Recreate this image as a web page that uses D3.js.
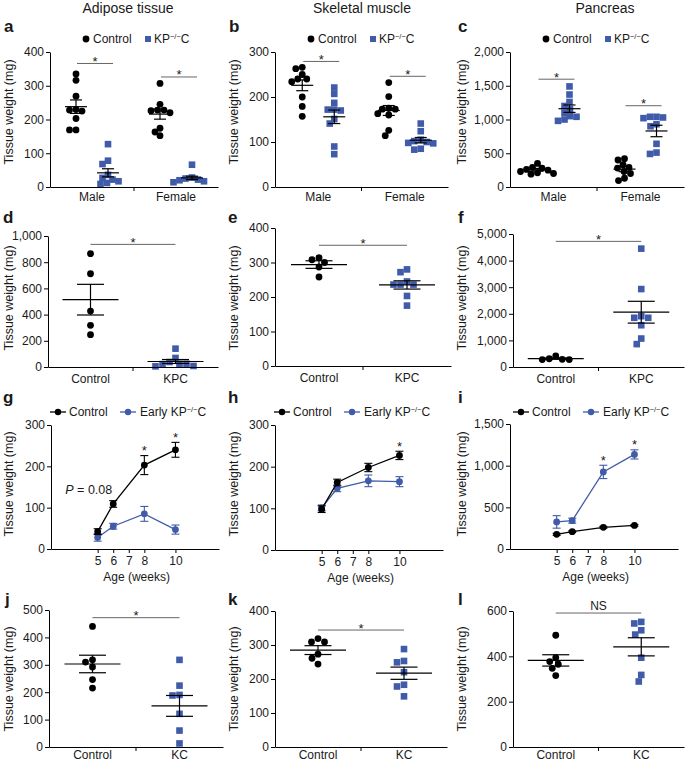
<!DOCTYPE html>
<html><head><meta charset="utf-8">
<script src="https://cdn.jsdelivr.net/npm/d3@7"></script>
<style>
body{margin:0;background:#fff}
svg text{font-family:"Liberation Sans",Arial,Helvetica,sans-serif;fill:#1a1a1a}
</style>
</head><body>
<svg id="c" width="685" height="763"></svg>
<script>
// ---------------- DATA ----------------
const sexGroups = ["Male", "Female"];
const kpcGroups = ["Control", "KPC"];
const kcGroups = ["Control", "KC"];
const weeks = [5, 6, 8, 10];
const weekTicks = [5, 6, 7, 8, 10];

// a  Adipose tissue (sex groups)
const aTicks = [0, 100, 200, 300, 400];
const aCtrl = [[335, 316, 269, 230, 228, 225, 203, 169, 169], [307, 245, 228, 228, 226, 220, 174, 163, 152]];
const aKP = [[127, 78, 68, 36, 27, 22, 17, 12, 9], [66, 28, 25, 22, 20, 17, 14]];
const aCtrlMean = [238, 216], aCtrlSem = [20, 15];
const aKPMean = [42, 27], aKPSem = [12, 5];
const aSig = [366, 326];

// b  Skeletal muscle
const bTicks = [0, 100, 200, 300];
const bCtrl = [[266, 263, 250, 240, 240, 234, 200, 179, 157], [232, 201, 175, 173, 173, 163, 160, 126, 114]];
const bKP = [[221, 207, 187, 172, 172, 170, 151, 141, 90, 73], [141, 124, 105, 102, 100, 98, 97, 85, 83]];
const bCtrlMean = [226, 170], bCtrlSem = [12, 11];
const bKPMean = [156, 104], bKPSem = [15, 6];
const bSig = [279, 246];

// c  Pancreas
const cTicks = [0, 500, 1000, 1500, 2000];
const cCtrl = [[350, 290, 280, 260, 250, 230, 210, 200, 190], [420, 400, 330, 290, 280, 230, 200, 130, 95]];
const cKP = [[1490, 1370, 1260, 1200, 1150, 1100, 1050, 1040, 1000, 980], [1040, 1040, 1030, 1020, 930, 900, 640, 510, 490]];
const cCtrlMean = [255, 265], cCtrlSem = [20, 38];
const cKPMean = [1160, 830], cKPSem = [55, 85];
const cSig = [1597, 1204];

// d, e, f  Control vs KPC
const dTicks = [0, 200, 400, 600, 800, 1000];
const dCtrl = [865, 712, 427, 318, 247];
const dKP = [140, 69, 38, 25, 25, 22, 8, 5];
const dMean = [514, 42], dSem = [117, 15], dSig = 936;

const eTicks = [0, 100, 200, 300, 400];
const eCtrl = [314, 308, 300, 287, 258];
const eKP = [280, 272, 245, 236, 236, 236, 203, 175];
const eMean = [294, 235], eSem = [11, 12], eSig = 350;

const fTicks = [0, 1000, 2000, 3000, 4000, 5000];
const fCtrl = [415, 290, 280, 280, 310];
const fKP = [4450, 2930, 1910, 1850, 1850, 1570, 1070, 860];
const fMean = [315, 2060], fSem = [25, 410], fSig = 4723;

// g, h, i  time course (mean, SEM)
const gTicks = [0, 100, 200, 300];
const gCtrl = [42, 109, 203, 240], gCtrlErr = [7, 8, 23, 18];
const gKP = [28, 55, 85, 47], gKPErr = [9, 7, 18, 11];
const gStars = [8, 10];

const hTicks = [0, 100, 200, 300];
const hCtrl = [98, 162, 198, 227], hCtrlErr = [8, 8, 10, 10];
const hKP = [101, 148, 166, 164], hKPErr = [7, 8, 14, 12];
const hStars = [10];

const iTicks = [0, 500, 1000, 1500];
const iCtrl = [176, 208, 260, 283], iCtrlErr = [12, 10, 12, 10];
const iKP = [325, 340, 925, 1135], iKPErr = [75, 30, 80, 55];
const iStars = [8, 10];

// j, k, l  Control vs KC
const jTicks = [0, 100, 200, 300, 400, 500];
const jCtrl = [440, 318, 310, 292, 246, 215];
const jKC = [318, 224, 190, 188, 121, 60, 13];
const jMean = [303, 150], jSem = [32, 38], jSig = 472;

const kTicks = [0, 100, 200, 300, 400];
const kCtrl = [319, 309, 309, 273, 261, 244];
const kKC = [288, 253, 249, 220, 183, 178, 149];
const kMean = [285, 217], kSem = [13, 18], kSig = 344;

const lTicks = [0, 200, 400, 600];
const lCtrl = [493, 394, 377, 365, 347, 315];
const lKC = [552, 545, 515, 496, 394, 318, 289];
const lMean = [382, 442], lSem = [25, 40], lSig = 591;

const titles = ["Adipose tissue", "Skeletal muscle", "Pancreas"];

// ---------------- DRAWING ----------------
const BLUE = "#3f5ba9";
const svg = d3.select("#c");
const fmt = d3.format(",");

function yAxis(y, ticks, L) {
  const g = svg.append("g").attr("transform", `translate(${L},0)`)
    .call(d3.axisLeft(y).tickValues(ticks).tickSize(4).tickSizeOuter(0).tickPadding(2).tickFormat(fmt));
  g.selectAll("path,line").attr("stroke", "#000").attr("stroke-width", 1);
  g.selectAll("text").attr("font-size", 12).attr("fill", "#1a1a1a");
  return g;
}
function catXAxis(band, B, pad) {
  const g = svg.append("g").attr("transform", `translate(0,${B})`)
    .call(d3.axisBottom(band).tickSize(0).tickSizeOuter(0).tickPadding(pad));
  g.selectAll("path").attr("stroke", "#000");
  g.selectAll("text").attr("font-size", 12).attr("fill", "#1a1a1a");
  const r = band.range();
  g.append("line").attr("x1", (r[0] + r[1]) / 2).attr("x2", (r[0] + r[1]) / 2)
    .attr("y1", 0).attr("y2", 4).attr("stroke", "#000");
}
function yLabel(x, cy) {
  svg.append("text").attr("transform", `translate(${x},${cy}) rotate(-90)`)
    .attr("text-anchor", "middle").attr("font-size", 12.5).text("Tissue weight (mg)");
}
function letter(t, x, y) {
  svg.append("text").attr("x", x).attr("y", y).attr("font-size", 17).attr("font-weight", "bold").text(t);
}
function swarm(vals, cx, y, d) {
  const pts = vals.map(v => ({ v, y: y(v) })).sort((a, b) => a.y - b.y);
  const placed = [];
  for (const p of pts) {
    for (let k = 0; k < 200; k++) {
      const off = (k % 2 === 0 ? 1 : -1) * Math.ceil(k / 2) * 0.5;
      const x = cx + off;
      if (placed.every(q => Math.hypot(q.x - x, q.y - p.y) >= d)) { p.x = x; break; }
    }
    placed.push(p);
  }
  return placed;
}
function drawPoints(pts, kind) {
  if (kind === "c") {
    svg.append("g").selectAll("circle").data(pts).join("circle")
      .attr("cx", d => d.x).attr("cy", d => d.y).attr("r", 3.4).attr("fill", "#000");
  } else {
    const s = 6.6;
    svg.append("g").selectAll("rect").data(pts).join("rect")
      .attr("x", d => d.x - s / 2).attr("y", d => d.y - s / 2).attr("width", s).attr("height", s).attr("fill", BLUE);
  }
}
function meanSem(cx, y, m, s, half, capHalf) {
  const g = svg.append("g").attr("stroke", "#000").attr("stroke-width", 1.2);
  g.append("line").attr("x1", cx - half).attr("x2", cx + half).attr("y1", y(m)).attr("y2", y(m));
  g.append("line").attr("x1", cx).attr("x2", cx).attr("y1", y(m - s)).attr("y2", y(m + s));
  [m - s, m + s].forEach(v => g.append("line").attr("x1", cx - capHalf).attr("x2", cx + capHalf).attr("y1", y(v)).attr("y2", y(v)));
}
function sigBar(x1, x2, yy, label) {
  svg.append("line").attr("x1", x1).attr("x2", x2).attr("y1", yy).attr("y2", yy).attr("stroke", "#666").attr("stroke-width", 1);
  if (label === "*") {
    svg.append("text").attr("x", (x1 + x2) / 2).attr("y", yy + 2.5).attr("text-anchor", "middle").attr("font-size", 13).text("*");
  } else {
    svg.append("text").attr("x", (x1 + x2) / 2).attr("y", yy - 3).attr("text-anchor", "middle").attr("font-size", 12).text(label);
  }
}
function kpText(sel, size, prefix) {
  if (prefix) sel.append("tspan").text(prefix);
  sel.append("tspan").text("KP");
  sel.append("tspan").attr("font-size", size * 0.62).attr("dy", -size * 0.38).text("\u2212/\u2212");
  sel.append("tspan").attr("dy", size * 0.38).text("C");
}
function scatterLegend(L, cy) {
  svg.append("circle").attr("cx", L + 36).attr("cy", cy).attr("r", 3.4).attr("fill", "#000");
  svg.append("text").attr("x", L + 43).attr("y", cy + 4.3).attr("font-size", 12).text("Control");
  const s = 6;
  svg.append("rect").attr("x", L + 98 - s / 2).attr("y", cy - s / 2).attr("width", s).attr("height", s).attr("fill", BLUE);
  kpText(svg.append("text").attr("x", L + 104).attr("y", cy + 4.3).attr("font-size", 12), 12);
}

// Row 1: grouped by sex
function grouped(cfg, ticks, ctrl, kp, cM, cS, kM, kS, sig) {
  const y = d3.scaleLinear().domain([0, d3.max(ticks)]).range([cfg.B, cfg.T]);
  const band = d3.scaleBand().domain(sexGroups).range([cfg.L, cfg.R]);
  sexGroups.forEach((g, i) => {
    const cx = band(g) + band.bandwidth() / 2;
    const xc = cx - 16, xk = cx + 16;
    drawPoints(swarm(ctrl[i], xc, y, 6.2), "c");
    drawPoints(swarm(kp[i], xk, y, 6.2), "s");
    meanSem(xc, y, cM[i], cS[i], 11, 6);
    meanSem(xk, y, kM[i], kS[i], 11, 6);
    sigBar(xc + 1, xk + 5, y(sig[i]), "*");
  });
  yAxis(y, ticks, cfg.L);
  catXAxis(band, cfg.B, 5.5);
  scatterLegend(cfg.L, 39);
}

// Rows 2 and 4: two groups
function pair(cfg, ticks, groups, ctrl, kp, means, sems, sig, sigLabel, pad) {
  const y = d3.scaleLinear().domain([0, d3.max(ticks)]).range([cfg.B, cfg.T]);
  const band = d3.scaleBand().domain(groups).range([cfg.L, cfg.R]);
  const xs = groups.map(g => band(g) + band.bandwidth() / 2);
  drawPoints(swarm(ctrl, xs[0], y, 7), "c");
  drawPoints(swarm(kp, xs[1], y, 7), "s");
  meanSem(xs[0], y, means[0], sems[0], 28, 13.5);
  meanSem(xs[1], y, means[1], sems[1], 28, 13.5);
  sigBar(xs[0], xs[1], y(sig), sigLabel);
  yAxis(y, ticks, cfg.L);
  catXAxis(band, cfg.B, pad);
}

// Row 3: time course
function timeCourse(cfg, ticks, cM, cE, kM, kE, stars, legendShift) {
  const y = d3.scaleLinear().domain([0, d3.max(ticks)]).range([cfg.B, cfg.T]);
  const x = d3.scaleLinear().domain([2, 12.8]).range([cfg.L, cfg.L + 168]);
  const series = [{ m: kM, e: kE, col: BLUE }, { m: cM, e: cE, col: "#000" }];
  series.forEach(s => {
    const g = svg.append("g");
    g.append("path").datum(weeks).attr("fill", "none").attr("stroke", s.col).attr("stroke-width", 1.3)
      .attr("d", d3.line().x(w => x(w)).y((w, i) => y(s.m[i])));
    weeks.forEach((w, i) => {
      const xx = x(w), lo = y(s.m[i] - s.e[i]), hi = y(s.m[i] + s.e[i]);
      g.append("line").attr("x1", xx).attr("x2", xx).attr("y1", lo).attr("y2", hi).attr("stroke", s.col).attr("stroke-width", 1.1);
      [lo, hi].forEach(v => g.append("line").attr("x1", xx - 4).attr("x2", xx + 4).attr("y1", v).attr("y2", v).attr("stroke", s.col).attr("stroke-width", 1.1));
      g.append("circle").attr("cx", xx).attr("cy", y(s.m[i])).attr("r", 3.4).attr("fill", s.col);
    });
  });
  stars.forEach(w => {
    const i = weeks.indexOf(w);
    const top = Math.max(cM[i] + cE[i], kM[i] + kE[i]);
    svg.append("text").attr("x", x(w)).attr("y", y(top) - 0.5).attr("text-anchor", "middle").attr("font-size", 13).text("*");
  });
  yAxis(y, ticks, cfg.L);
  const gx = svg.append("g").attr("transform", `translate(0,${cfg.B})`)
    .call(d3.axisBottom(x).tickValues(weekTicks).tickSize(4).tickSizeOuter(0).tickPadding(3));
  gx.selectAll("path,line").attr("stroke", "#000");
  gx.selectAll("text").attr("font-size", 12).attr("fill", "#1a1a1a");
  svg.append("text").attr("x", x(7.5)).attr("y", cfg.B + 32).attr("text-anchor", "middle").attr("font-size", 12).text("Age (weeks)");
  // legend
  const L = cfg.L + legendShift, ly = 412;
  svg.append("line").attr("x1", L).attr("x2", L + 16).attr("y1", ly).attr("y2", ly).attr("stroke", "#000").attr("stroke-width", 1.3);
  svg.append("circle").attr("cx", L + 8).attr("cy", ly).attr("r", 3.2).attr("fill", "#000");
  svg.append("text").attr("x", L + 19).attr("y", ly + 4.3).attr("font-size", 12).text("Control");
  svg.append("line").attr("x1", L + 70).attr("x2", L + 86).attr("y1", ly).attr("y2", ly).attr("stroke", BLUE).attr("stroke-width", 1.3);
  svg.append("circle").attr("cx", L + 78).attr("cy", ly).attr("r", 3.2).attr("fill", BLUE);
  kpText(svg.append("text").attr("x", L + 90).attr("y", ly + 4.3).attr("font-size", 12), 12, "Early ");
  return { x, y };
}

// Titles
[128, 362, 605].forEach((cx, i) => svg.append("text").attr("x", cx).attr("y", 13).attr("text-anchor", "middle").attr("font-size", 14).text(titles[i]));

// Row 1
grouped({ L: 50, R: 218, T: 52, B: 187 }, aTicks, aCtrl, aKP, aCtrlMean, aCtrlSem, aKPMean, aKPSem, aSig);
grouped({ L: 275, R: 448, T: 52, B: 187 }, bTicks, bCtrl, bKP, bCtrlMean, bCtrlSem, bKPMean, bKPSem, bSig);
grouped({ L: 510, R: 684, T: 52, B: 187 }, cTicks, cCtrl, cKP, cCtrlMean, cCtrlSem, cKPMean, cKPSem, cSig);

// Row 2
pair({ L: 48, R: 218, T: 236, B: 367 }, dTicks, kpcGroups, dCtrl, dKP, dMean, dSem, dSig, "*", 7.5);
pair({ L: 275, R: 451, T: 228, B: 366 }, eTicks, kpcGroups, eCtrl, eKP, eMean, eSem, eSig, "*", 7.5);
pair({ L: 513, R: 684, T: 234, B: 367 }, fTicks, kpcGroups, fCtrl, fKP, fMean, fSem, fSig, "*", 7.5);

// Row 3
const gS = timeCourse({ L: 51, T: 425, B: 549 }, gTicks, gCtrl, gCtrlErr, gKP, gKPErr, gStars, -1);
timeCourse({ L: 275, T: 425, B: 550 }, hTicks, hCtrl, hCtrlErr, hKP, hKPErr, hStars, -1);
timeCourse({ L: 510, T: 424, B: 549 }, iTicks, iCtrl, iCtrlErr, iKP, iKPErr, iStars, 3);
// P value annotation in g
const pText = svg.append("text").attr("x", gS.x(6) - 1).attr("y", gS.y(gCtrl[1] + gCtrlErr[1]) - 7)
  .attr("text-anchor", "end").attr("font-size", 12.5);
pText.append("tspan").attr("font-style", "italic").text("P");
pText.append("tspan").text(" = 0.08");

// Row 4
pair({ L: 49, R: 223, T: 610, B: 747 }, jTicks, kcGroups, jCtrl, jKC, jMean, jSem, jSig, "*", 3.5);
pair({ L: 275, R: 447, T: 611, B: 747 }, kTicks, kcGroups, kCtrl, kKC, kMean, kSem, kSig, "*", 3.5);
pair({ L: 513, R: 684, T: 611, B: 747 }, lTicks, kcGroups, lCtrl, lKC, lMean, lSem, lSig, "NS", 3.5);

// Y labels
[[13, 112], [238, 112], [466, 112], [13, 298], [238, 298], [466, 298], [13, 484], [238, 484], [466, 484], [13, 679], [238, 679], [466, 679]]
  .forEach(p => yLabel(p[0], p[1]));

// Panel letters
[["a", 4, 32], ["b", 229, 32], ["c", 458, 32], ["d", 3, 223], ["e", 228, 223], ["f", 458, 223],
 ["g", 3, 403], ["h", 228, 403], ["i", 458, 403], ["j", 5, 605], ["k", 228, 605], ["l", 458, 605]]
  .forEach(p => letter(p[0], p[1], p[2]));
</script>
</body></html>
